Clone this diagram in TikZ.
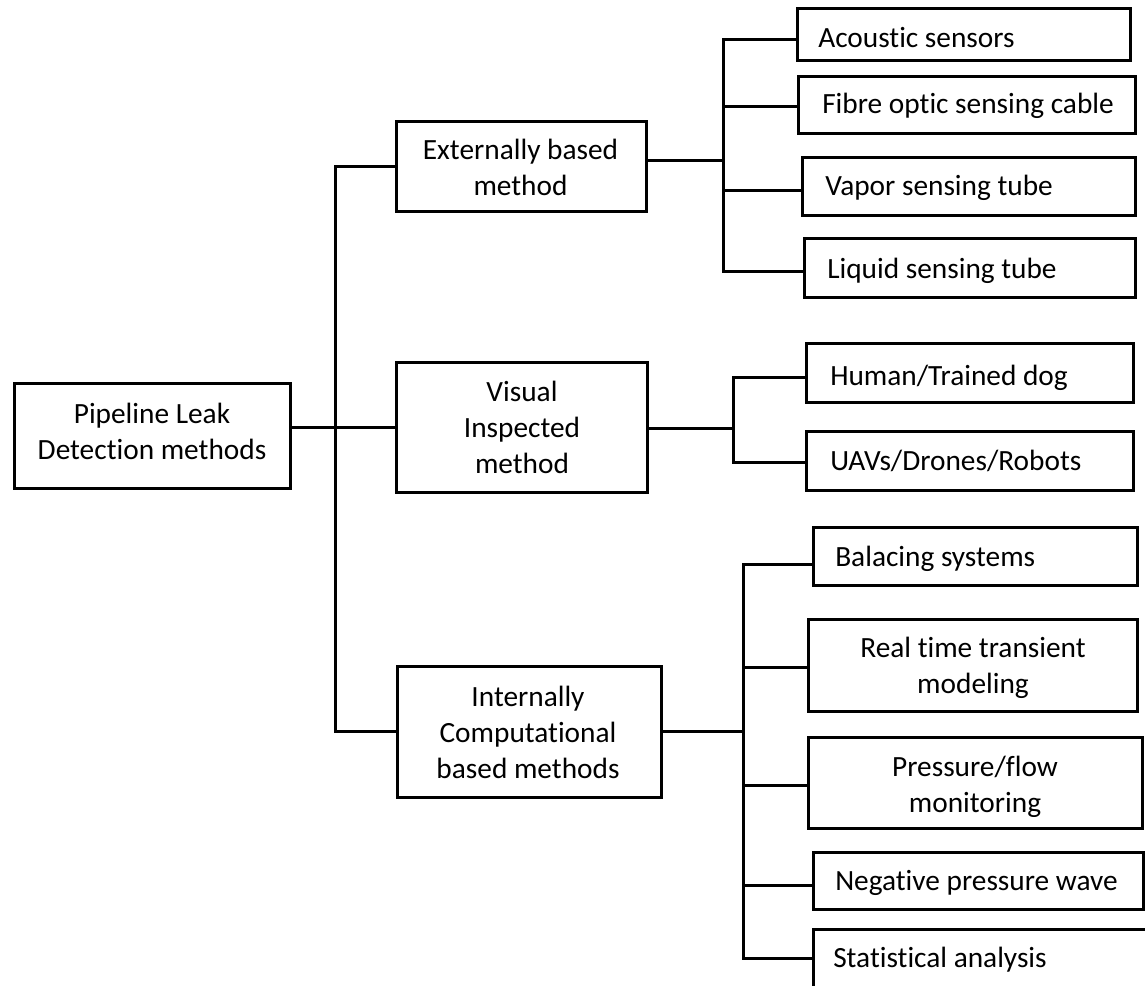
\documentclass[tikz,border=0pt]{standalone}
\usepackage{fontspec}
\setmainfont{Carlito}[Ligatures=NoCommon]
\usetikzlibrary{calc}
\begin{document}
\begin{tikzpicture}[x=0.75pt,y=-0.75pt,
  box/.style 2 args={draw, line width=2.25pt, minimum width=#1*0.75pt,
    minimum height=#2*0.75pt, inner sep=0pt},
  txt/.style={font=\fontsize{22}{27}\selectfont, inner sep=0pt},
  ctxt/.style={txt, text width=320*0.75pt, align=flush center, anchor=base},
  ltxt/.style={txt, anchor=base west},
  link/.style={line width=2.25pt}]
\useasboundingbox (0,0) rectangle (1145,985);
\clip (0,0) rectangle (1145,985);

% --- root and the three method families
\node[box={276}{105}] (root) at (152,435.5) {};
\node[ctxt] (root-t) at (152,423) {Pipeline Leak\\Detection methods};

\node[box={250}{90}] (ext) at (521,166) {};
\node[ctxt] (ext-t) at (520.5,159) {Externally based\\method};

\node[box={251}{130}] (vis) at (521.5,427) {};
\node[ctxt] (vis-t) at (522,401) {Visual\\Inspected\\method};

\node[box={264}{131}] (int) at (529,731.5) {};
\node[ctxt] (int-t) at (528,706) {Internally\\Computational\\based methods};

% --- external techniques
\node[box={333}{52}] (acou) at (963.5,34) {};
\node[ltxt] (acou-t) at (818,47) {Acoustic sensors};
\node[box={337}{57}] (fib) at (966.5,104.5) {};
\node[ltxt] (fib-t) at (822,113) {Fibre optic sensing cable};
\node[box={333}{58}] (vap) at (968.5,186) {};
\node[ltxt] (vap-t) at (825,195) {Vapor sensing tube};
\node[box={331}{59}] (liq) at (969.5,267.5) {};
\node[ltxt] (liq-t) at (827,278) {Liquid sensing tube};

% --- visual techniques
\node[box={327}{59}] (hum) at (969.5,372.5) {};
\node[ltxt] (hum-t) at (830,385) {Human/Trained dog};
\node[box={327}{59}] (uav) at (969.5,460.5) {};
\node[ltxt] (uav-t) at (830,470) {UAVs/Drones/Robots};

% --- internal techniques
\node[box={324}{58}] (bal) at (975,556) {};
\node[ltxt] (bal-t) at (835,566) {Balacing systems};
\node[box={329}{92}] (real) at (972.5,665) {};
\node[ctxt] (real-t) at (973,657) {Real time transient\\modeling};
\node[box={334}{91}] (pres) at (975,782.5) {};
\begin{scope}
  \clip (pres.north west) rectangle (1145,816);
  \node[ctxt] (pres-t) at (975,776) {Pressure/flow\\monitoring};
\end{scope}
\node[box={330}{57}] (neg) at (978,880.5) {};
\node[ltxt] (neg-t) at (835,890) {Negative pressure wave};
\node[box={347}{75}] (stat) at (986.5,966.5) {};
\node[ltxt] (stat-t) at (833,967) {Statistical analysis};

% --- junction points of the tree
\coordinate (j0) at (335,0);
\coordinate (j1) at (723,160);
\coordinate (j2) at (733,428);
\coordinate (j3) at (743,731);

% root to families
\draw[link] (ext.west) -- (ext.west -| j0) |- (int.west);
\draw[link] (root.east |- vis.west) -- (vis.west);

% external family
\draw[link] (ext.east |- j1) -- (j1);
\draw[link] ($(acou.west)+(0,5)$) -| (j1);
\draw[link] ($(liq.west)+(0,4)$) -| (j1);
\draw[link] ($(fib.west)+(0,1.5)$) -- ($(fib.west -| j1)+(0,1.5)$);
\draw[link] ($(vap.west)+(0,4)$) -- ($(vap.west -| j1)+(0,4)$);

% visual family
\draw[link] (vis.east |- j2) -- (j2);
\draw[link] ($(hum.west)+(0,4.5)$) -| (j2);
\draw[link] ($(uav.west)+(0,1.5)$) -| (j2);

% internal family
\draw[link] (int.east |- j3) -- (j3);
\draw[link] ($(bal.west)+(0,8)$) -| (j3);
\draw[link] ($(stat.west)+(0,-8.5)$) -| (j3);
\draw[link] ($(real.west)+(0,2)$) -- ($(real.west -| j3)+(0,2)$);
\draw[link] ($(pres.west)+(0,2.5)$) -- ($(pres.west -| j3)+(0,2.5)$);
\draw[link] ($(neg.west)+(0,4.5)$) -- ($(neg.west -| j3)+(0,4.5)$);
\end{tikzpicture}
\end{document}
